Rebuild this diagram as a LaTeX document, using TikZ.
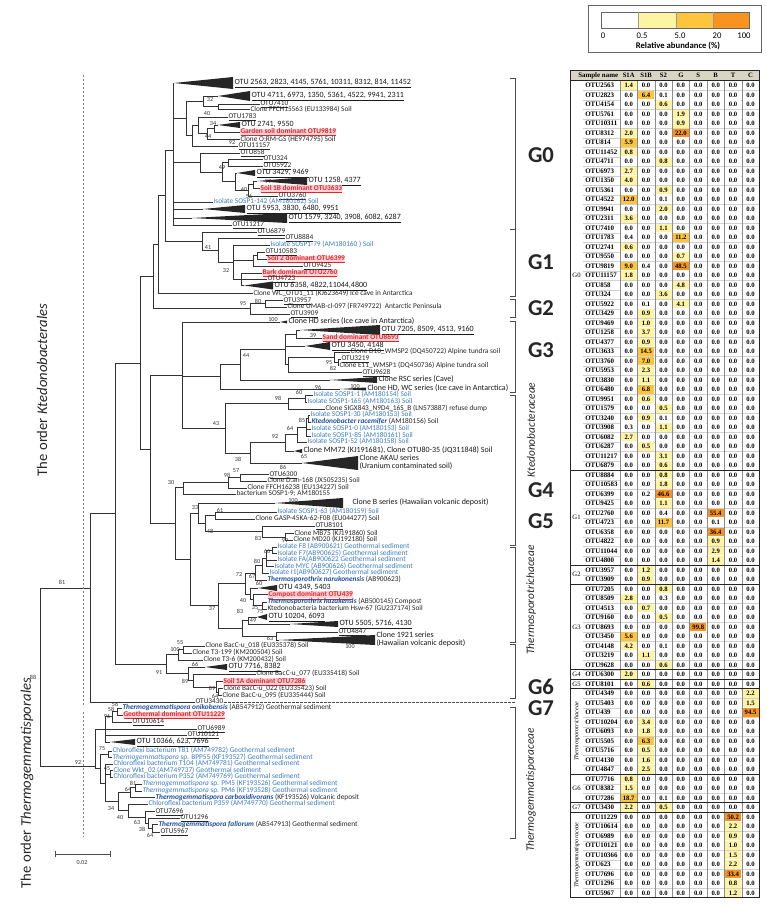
\documentclass[tikz,border=0pt]{standalone}
\usepackage{fontspec}
\setmainfont{Carlito}
\newfontfamily\tabfont{Liberation Serif}
\usetikzlibrary{calc}
\definecolor{cblue}{HTML}{3D7DC2}
\definecolor{cdblue}{HTML}{1F4E9C}
\definecolor{cred}{HTML}{E3262D}
\definecolor{cpink}{HTML}{FAD3D6}
\definecolor{lv0}{HTML}{FFFFFF}
\definecolor{lv1}{HTML}{FFF4A3}
\definecolor{lv2}{HTML}{FDC43E}
\definecolor{lv3}{HTML}{F7931E}
\definecolor{hdr}{HTML}{D9D4C3}
\newcommand\spn[1]{{\color{cdblue}\bfseries\itshape #1}}
\newcommand\tipn[4]{\node[#3] (#1) at (#2) {#4};}
\newcommand\tri[6]{\coordinate (#1) at (#2,#3);\fill[black!85] (#2,#3) -- (#4,#3-#5) -- (#4,#3+#5) -- cycle;\node[tl] (#1l) at (#4+1,#3) {#6};}
\newcommand\inn[3]{\coordinate (#1) at (#2);\foreach \c in {#3}{\draw[br] (#1) |- (\c);}}
\newcommand\brk[3]{\draw[brk] (#1-5,#2) -- (#1,#2) -- (#1,#3) -- (#1-5,#3);}
\newcommand\trow[3]{%
 \pgfmathsetmacro\yy{85.5+9.5*#1}%
 \node[tname] at (585,\yy) {#2};%
 \foreach \v [count=\c] in {#3}{%
   \pgfmathsetmacro\xx{620+17.4*(\c-1)}%
   \pgfmathtruncatemacro\lev{\v>=20?3:(\v>=5?2:(\v>=0.5?1:0))}%
   \fill[fill=lv\lev] (\xx+0.6,\yy-4.3) rectangle (\xx+16.8,\yy+4.3);%
   \node[tval] at (\xx+8.7,\yy) {\v};}}
\begin{document}
\begin{tikzpicture}[x=0.75pt,y=-0.75pt,
 br/.style={draw=black!80,line width=0.5pt},
 lb/.style={anchor=west,inner sep=0.2pt,text height=3.7pt,text depth=1.1pt,font=\fontsize{5.5}{6}\selectfont,text=black!85},
 lbb/.style={lb,text=cblue},
 lbr/.style={lb,text=cred,fill=cpink,font=\fontsize{5.5}{6}\selectfont\bfseries},
 tl/.style={anchor=west,inner sep=0.2pt,text height=4pt,text depth=1.2pt,font=\fontsize{6}{7}\selectfont,text=black!90},
 bs/.style={inner sep=0pt,text height=3.2pt,text depth=0pt,font=\fontsize{4.6}{5}\selectfont,text=black!80},
 brk/.style={draw=black!70,line width=0.5pt},
 glab/.style={inner sep=0.5pt,text height=11pt,text depth=0pt,font=\fontsize{17}{18}\selectfont\bfseries,text=black!85},
 fam/.style={rotate=90,font=\fontsize{8.5}{9}\selectfont\itshape,text=black!85},
 tname/.style={anchor=west,inner sep=0pt,font=\tabfont\bfseries\fontsize{5.2}{6}\selectfont},
 tval/.style={inner sep=0pt,font=\tabfont\bfseries\fontsize{5}{6}\selectfont},
 tgrp/.style={inner sep=0pt,font=\tabfont\fontsize{5}{6}\selectfont}]
\useasboundingbox (0,0) rectangle (766,912);
\fill[white] (0,0) rectangle (766,912);
% ================= tips: G0
\tri{T1}{174}{83}{233}{6}{\underline{OTU 2563, 2823, 4145, 5761, 10311, 8312, 814, 11452}}
\tri{T2}{218}{96}{250}{5}{\underline{OTU 4711, 6973, 1350, 5361, 4522, 9941, 2311}}
\tipn{t7410}{260,104}{lb}{\underline{OTU7410}}
\tipn{tFFCH}{250,109.5}{lb}{Clone FFCH15563 (EU133984) Soil}
\tipn{t1783}{228,117}{lb}{\underline{OTU1783}}
\tri{T3}{218}{125}{240}{3}{\underline{OTU 2741, 9550}}
\tipn{t9819}{240,132}{lbr}{\underline{Garden soil dominant OTU9819}}
\tipn{tORM}{240,139.5}{lb}{Clone O:RM-GS (HE974795) Soil}
\tipn{t11157}{238,146}{lb}{\underline{OTU11157}}
\tipn{t858}{240,153}{lb}{\underline{OTU858}}
\tipn{t324}{263,159}{lb}{\underline{OTU324}}
\tipn{t5922}{263,166}{lb}{\underline{OTU5922}}
\tri{T4}{237}{173}{255}{3}{\underline{OTU 3429, 9469}}
\tri{T5}{257}{181}{307}{4}{\underline{OTU 1258, 4377}}
\tipn{t3633}{260,188.5}{lbr}{\underline{Soil 1B dominant OTU3633}}
\tipn{t3760}{278,196}{lb}{\underline{OTU3760}}
\tipn{tS142}{213,202}{lbb}{Isolate SOSP1-142 (AM180162) Soil}
\tri{T6}{203}{209}{245}{4}{\underline{OTU 5953, 3830, 6480, 9951}}
\tri{T7}{192}{218}{287}{5}{\underline{OTU 1579, 3240, 3908, 6082, 6287}}
\tipn{t11217}{232,225}{lb}{\underline{OTU11217}}
% G1
\tipn{t6879}{257,232}{lb}{\underline{OTU6879}}
\tipn{t8884}{285,238}{lb}{\underline{OTU8884}}
\tipn{tS79}{270,245}{lbb}{Isolate SOSP1-79 (AM180160 ) Soil}
\tipn{t10583}{265,252}{lb}{\underline{OTU10583}}
\tipn{t6399}{267,259}{lbr}{\underline{Soil 2 dominant OTU6399}}
\tipn{t9425}{303,266}{lb}{\underline{OTU9425}}
\tipn{t2760}{262,273}{lbr}{\underline{Bark dominant OTU2760}}
\tipn{t4723}{267,279}{lb}{\underline{OTU4723}}
\tri{T8}{244}{285.5}{273}{4}{\underline{OTU 6358, 4822,11044,4800}}
\tipn{tWC}{253,293.5}{lb}{Clone WC\_OTU1\_11 (KJ623649) Ice cave in Antarctica}
% G2
\tipn{t3957}{283,300.5}{lb}{\underline{OTU3957}}
\tipn{tUMAB}{287,307}{lb}{Clone UMAB-cl-097 (FR749722)\ \ Antarctic Peninsula}
\tipn{t3909}{290,314}{lb}{\underline{OTU3909}}
\tri{THD}{280}{322}{287}{1.5}{Clone HD series (Ice cave in Antarctica)}
% G3
\tri{T9}{300}{330}{380}{5}{\underline{OTU 7205, 8509, 4513, 9160}}
\tipn{t8693}{322,338}{lbr}{\underline{Sand dominant OTU8693}}
\tri{T10}{305}{346}{330}{4}{\underline{OTU 3450, 4148}}
\tipn{tD10}{350,352}{lb}{Clone D10\_WMSP2 (DQ450722) Alpine tundra soil}
\tipn{t3219}{341,359}{lb}{\underline{OTU3219}}
\tipn{tE11}{339,365.5}{lb}{Clone E11\_WMSP1 (DQ450736) Alpine tundra soil}
\tipn{t9628}{362,372.5}{lb}{\underline{OTU9628}}
\tri{TRSC}{330}{380}{377}{3}{Clone RSC series (Cave)}
\tri{THDWC}{340}{389}{366}{1.5}{Clone HD, WC series (Ice cave in Antarctica)}
% Ktedonobacteraceae
\tipn{tS1}{313,395}{lbb}{Isolate SOSP1-1 (AM180154) Soil}
\tipn{tS165}{307,402}{lbb}{Isolate SOSP1-165 (AM180163) Soil}
\tipn{tSIGX}{325,409}{lb}{Clone SIGX843\_N9D4\_16S\_B (LN573887) refuse dump}
\tipn{tS30}{310,415}{lbb}{Isolate SOSP1-30 (AM180153) Soil}
\tipn{tKrac}{311,422}{lb}{\spn{Ktedonobacter racemifer} (AM180156) Soil}
\tipn{tS0}{311,429}{lbb}{Isolate SOSP1-0 (AM180153) Soil}
\tipn{tS85}{311,436}{lbb}{Isolate SOSP1-85 (AM180161) Soil}
\tipn{tS52}{307,442}{lbb}{Isolate SOSP1-52 (AM180158) Soil}
\tri{TMM}{294}{451}{302}{2}{Clone MM72 (KJ191681), Clone OTU80-35 (JQ311848) Soil}
\tri{TAK}{302}{463}{358}{7}{}
\node[tl] (akau1) at (359,459) {Clone AKAU series};
\node[tl] (akau2) at (359,467) {(Uranium contaminated soil)};
% G4
\tipn{t6300}{269,474.5}{lb}{\underline{OTU6300}}
\tipn{tDan}{267,481}{lb}{Clone D.an-168 (JX505235) Soil}
\tipn{tFF2}{247,488}{lb}{Clone FFCH16238 (EU134227) Soil}
\tipn{tS9}{236,494}{lb}{bacterium SOSP1-9; AM180155}
\tri{TB}{275}{503}{343}{5}{}
\node[tl] (bser) at (352,503) {Clone B series (Hawaiian volcanic deposit)};
% G5
\tipn{tS63}{277,512}{lbb}{Isolate SOSP1-63 (AM180159) Soil}
\tipn{tGASP}{255,519}{lb}{Clone GASP-45KA-62-F08 (EU044277) Soil}
\tipn{t8101}{315,526}{lb}{\underline{OTU8101}}
\tipn{tMB75}{294,533.5}{lb}{Clone MB75 (KJ191860) Soil}
\tipn{tMD20}{293,540}{lb}{Clone MD20 (KJ192180) Soil}
% Thermosporotrichaceae
\tipn{tF8}{277,547}{lbb}{Isolate F8 (AB900621) Geothermal sediment}
\tipn{tF7}{277,553.5}{lbb}{Isolate F7(AB900625) Geothermal sediment}
\tipn{tFA}{277,560}{lbb}{Isolate FA(AB900622 Geothermal sediment}
\tipn{tMYC}{274,566.5}{lbb}{Isolate MYC (AB900626) Geothermal sediment}
\tipn{tI1}{269,573}{lbb}{Isolate I1(AB900627) Geothermal sediment}
\tipn{tTn}{267,580}{lb}{\spn{Thermosporothrix narukonensis} (AB900623)}
\tri{T11}{258}{588}{277}{3}{\underline{OTU 4349, 5403}}
\tipn{t439}{268,594.5}{lbr}{\underline{Compost dominant OTU439}}
\tipn{tTh}{267,602}{lb}{\spn{Thermosporothrix hazakensis} (AB500145) Compost}
\tipn{tHsw}{267,609}{lb}{Ktedonobacteria bacterium Hsw-67 (GU237174) Soil}
\tri{T12}{257}{617}{267}{3}{\underline{OTU 10204, 6093}}
\tri{T13}{290}{624}{338}{3}{\underline{OTU 5505, 5716, 4130}}
\tipn{t4847}{338,632}{lb}{\underline{OTU4847}}
\tri{T1921}{279}{640}{375}{5}{}
\node[tl] (c1921a) at (376,636) {Clone 1921 series};
\node[tl] (c1921b) at (376,644) {(Hawaiian volcanic deposit)};
% G6, G7
\tipn{tB018}{205,646}{lb}{Clone BacC-u\_018 (EU335378) Soil}
\tipn{tT199}{192,653}{lb}{Clone T3-199 (KM200504) Soil}
\tipn{tT36}{203,660}{lb}{Clone T3-6 (KM200432) Soil}
\tri{T14}{205}{667}{227}{3}{\underline{OTU 7716, 8382}}
\tipn{tB077}{256,674}{lb}{Clone BacC-u\_077 (EU335418) Soil}
\tipn{t7286}{223,681.5}{lbr}{\underline{Soil 1A dominant OTU7286}}
\tipn{tB022}{223,688.5}{lb}{Clone BacC-u\_022 (EU335423) Soil}
\tipn{tB095}{222,695.5}{lb}{Clone BacC-u\_095 (EU335444) Soil}
\tipn{t3430}{195,702}{lb}{OTU3430}
% Thermogemmatisporaceae
\tipn{tOnik}{122,708}{lb}{\spn{Thermogemmatispora onikobensis} (AB547912) Geothermal sediment}
\tipn{t11229}{123,715}{lbr}{\underline{Geothermal dominant OTU11229}}
\tipn{t10614}{132,722}{lb}{\underline{OTU10614}}
\tipn{t6989}{197,729}{lb}{\underline{OTU6989}}
\tipn{t10121}{187,735}{lb}{\underline{OTU10121}}
\tri{T15}{110}{742}{135}{3}{\underline{OTU 10366, 623, 7696}}
\tipn{tT81}{112,751}{lbb}{Chloroflexi bacterium T81 (AM749782) Geothermal sediment}
\tipn{tBPP}{112,757.5}{lbb}{\textit{Thermogemmatispora} sp. BPP55 (KF193527) Geothermal sediment}
\tipn{tT104}{113,764}{lbb}{Chloroflexi bacterium T104 (AM749781) Geothermal sediment}
\tipn{tWkt}{113,770.5}{lbb}{Clone Wkt\_02 (AM749737) Geothermal sediment}
\tipn{tP352}{113,777}{lbb}{Chloroflexi bacterium P352 (AM749769) Geothermal sediment}
\tipn{tPM5}{142,784}{lbb}{\textit{Thermogemmatispora} sp. PM5 (KF193526) Geothermal sediment}
\tipn{tPM6}{142,791}{lbb}{\textit{Thermogemmatispora} sp. PM6 (KF193528) Geothermal sediment}
\tipn{tCarb}{155,797.5}{lb}{\spn{Thermogemmatispora carboxidivorans} (KF193526) Volcanic deposit}
\tipn{tP359}{148,804}{lbb}{Chloroflexi bacterium P359 (AM749770) Geothermal sediment}
\tipn{t7696}{155,811.5}{lb}{\underline{OTU7696}}
\tipn{t1296}{180,818}{lb}{\underline{OTU1296}}
\tipn{tFall}{158,824.5}{lb}{\spn{Thermogemmatispora fallorum} (AB547913) Geothermal sediment}
\tipn{t5967}{160,832}{lb}{\underline{OTU5967}}
% ================= internal nodes
\inn{a1}{218,106.5}{t7410,tFFCH}
\inn{a2}{203,101.25}{T2,a1}
\inn{a3}{214,128.5}{T3,t9819}
\inn{a4}{207,133.75}{a3,tORM}
\inn{a5}{198,125}{t1783,a4}
\inn{a6}{192,135.5}{a5,t11157}
\inn{a7}{186,118.4}{a2,a6}
\inn{b1}{228,162.5}{t324,t5922}
\inn{b2}{253,184.5}{T5,t3633}
\inn{b3}{248,190.25}{b2,t3760}
\inn{b4}{235,181.6}{T4,b3}
\inn{b5}{222,172}{b1,b4}
\inn{b6}{200,162.5}{t858,b5}
\inn{c1}{173,150}{T1,a7,b6,tS142,T6,T7,t11217}
\inn{g1a}{257,255.5}{t10583,t6399}
\inn{g1b}{253,260.75}{g1a,t9425}
\inn{g1c}{241,279}{t2760,t4723,T8}
\inn{g1d}{233,262}{tS79,g1b,g1c}
\inn{g1e}{218,250}{t8884,g1d}
\inn{g1f}{202,241}{t6879,g1e}
\inn{c3}{165,195}{c1,g1f}
\inn{c4}{158,244}{c3,tWC}
\inn{g2a}{265,303.5}{t3957,tUMAB}
\inn{g2}{250,308.75}{g2a,t3909}
\inn{c5}{153,276}{c4,g2}
\inn{g3a}{296,334}{T9,t8693}
\inn{g3d}{338,362.5}{t3219,tE11}
\inn{g3c}{334,357.25}{tD10,g3d}
\inn{g3e}{288,364.6}{g3c,t9628}
\inn{g3f}{285,349.3}{g3a,T10,g3e}
\inn{g3g}{240,364.6}{g3f,TRSC}
\inn{g3h}{220,376.8}{g3g,THDWC}
\inn{ka1}{305,398.5}{tS1,tS165}
\inn{ka2}{288,403.75}{ka1,tSIGX}
\inn{kb1}{308,418.5}{tS30,tKrac}
\inn{kb2}{306,427.25}{kb1,tS0,tS85}
\inn{kb3}{297,434.6}{kb2,tS52}
\inn{kb4}{285,442.8}{kb3,TMM}
\inn{kb5}{250,452.9}{kb4,TAK}
\inn{kc}{225,428.3}{ka2,kb5}
\inn{k182}{182,375}{THD,g3h,kc}
\inn{g4a}{240,477.5}{t6300,tDan}
\inn{g4core}{228,482.5}{g4a,tFF2}
\inn{g4x}{183,487.75}{g4core,tS9}
\inn{g5a}{215,515.5}{tS63,tGASP}
\inn{g5c}{285,537}{tMB75,tMD20}
\inn{g5b}{262,531.5}{t8101,g5c}
\inn{g5}{205,523.5}{g5a,g5b}
\inn{k33}{198,513}{TB,g5}
\inn{f1}{272,550}{tF8,tF7}
\inn{f2}{266,558.5}{f1,tFA,tMYC}
\inn{f3}{262,565.75}{f2,tI1}
\inn{f4}{255,572.9}{f3,tTn}
\inn{f6}{262,605.5}{tTh,tHsw}
\inn{f7}{253,599.75}{t439,f6}
\inn{f8}{250,593.9}{T11,f7}
\inn{f9}{245,583.4}{f4,f8}
\inn{f11}{248,620.5}{T12,T13}
\inn{f13}{276,636}{t4847,T1921}
\inn{f12}{242,628}{f11,f13}
\inn{f10}{218,605.7}{f9,f12}
\inn{kM}{190,559}{k33,f10}
\inn{k30}{175,523.7}{g4x,kM}
\inn{kU}{150,449}{k182,k30}
\inn{kT}{140,363}{c5,kU}
\inn{g6a}{183,649.5}{tB018,tT199}
\inn{g6b}{178,654.75}{g6a,tT36}
\inn{g6d}{218,692}{tB022,tB095}
\inn{g6e}{216,687}{t7286,g6d}
\inn{g6f}{193,680.5}{tB077,g6e}
\inn{g6h}{188,673.75}{T14,g6f}
\inn{G6r}{166,664.25}{g6b,g6h}
\inn{kB}{115,513}{kT,G6r}
\inn{kA}{90,588}{kB,t3430}
\inn{tga}{117,711.5}{tOnik,t11229}
\inn{tgb}{112,716.75}{tga,t10614}
\inn{tgc}{105,729.4}{tgb,t6989,t10121,T15}
\inn{tge}{108,754}{tT81,tBPP}
\inn{tgf}{110,774}{tWkt,tP352}
\inn{tgg}{135,787.5}{tPM5,tPM6}
\inn{tgh}{130,792.75}{tgg,tCarb}
\inn{tgj}{152,828}{tFall,t5967}
\inn{tgk}{148,823}{t1296,tgj}
\inn{tgl}{145,817.5}{t7696,tgk}
\inn{tgm}{128,810.75}{tP359,tgl}
\inn{tgn}{118,801.75}{tgh,tgm}
\inn{tgo}{105,782.9}{tT104,tgf,tgn}
\inn{tgp}{100,768.5}{tge,tgo}
\inn{TG0}{95,766}{tgc,tgp}
\inn{R}{40,683}{kA,TG0}
% dashed link of OTU3430
\coordinate (g7end) at (515,702);
\draw[black!70,dash pattern=on 2pt off 1pt,line width=0.4pt] (t3430.east) -- (g7end);
% ================= bootstrap values
\foreach \p/\t in {{210,99}/32,{207,113}/40,{213,123}/34,{208,136}/44,{232,142}/92,{222,167}/49,{268,181.5}/97,{244,189}/40,{249,196}/56,
 {208,247}/41,{226,270}/32,{243,303}/95,{258,301}/80,{273,319}/100,
 {313,335}/39,{246,355}/44,{329,362.5}/95,{333,368.5}/82,{318,387}/96,{355,386}/100,
 {299,392}/60,{278,398}/98,{216,423}/43,{302,420}/85,{290,428}/64,{275,436}/92,{238,459}/38,{304,456}/65,
 {283,467.5}/86,{236,470.5}/57,{227,475.5}/98,{171,482}/30,{293,500}/100,
 {195,507}/33,{220,510}/61,{210,531}/48,{258,538}/83,{285,540}/99,
 {267,551}/66,{257,561}/80,{239,574}/72,{252,576}/67,{259,583}/60,{243,600}/40,{255,607}/35,{212,608}/37,{240,611}/83,{260,611}/75,{253,620}/49,{270,638}/63,{350,646}/100,
 {180,642.5}/55,{175,649.5}/100,{195,664}/66,{159,672}/91,{185,681}/89,{212,688}/89,{215,696}/64,
 {115,704.5}/56,{111,709.5}/58,{107,716}/96,{102,748}/75,{78,762}/92,{107,768}/45,{133,783}/81,{128,789}/64,{111,808}/34,{120,817}/40,{137,822.5}/63,{142,829}/38,{150,835}/64,
 {62,582}/81,{33,677}/88}
 {\node[bs] at (\p) {\t};}
% ================= order labels, dashed lines, scale
\draw[black!50,dash pattern=on 1.5pt off 1.5pt,line width=0.5pt] (83,75) -- (83,705);
\draw[black!50,dash pattern=on 1.5pt off 1.5pt,line width=0.5pt] (83,712) -- (83,837);
\node[rotate=90,font=\fontsize{11}{12}\selectfont,text=black!85] (ordK) at (42,390) {The order \textit{Ktedonobacterales}};
\node[rotate=90,font=\fontsize{11}{12}\selectfont,text=black!85] (ordT) at (27,783) {The order \textit{Thermogemmatisporales}};
\coordinate (sbL) at (55,854); \coordinate (sbR) at (110,854);
\draw[black!70,line width=0.5pt] (sbL) -- (sbR);
\draw[black!70,line width=0.5pt] ($(sbL)+(0,-3)$) -- ($(sbL)+(0,3)$);
\draw[black!70,line width=0.5pt] ($(sbR)+(0,-3)$) -- ($(sbR)+(0,3)$);
\node[bs] at (82,862) {0.02};
% ================= brackets and group labels
\brk{515}{78}{229}
\brk{515}{229}{296}
\brk{515}{299}{317}
\brk{515}{321}{392}
\brk{515}{395}{545}
\brk{515}{547}{642}
\brk{515}{644}{698}
\brk{515}{707}{838}
\node[glab] at (541,155) {G0};
\node[glab] at (541,262) {G1};
\node[glab] at (541,308) {G2};
\node[glab] at (541,350) {G3};
\node[fam] at (531,430) {Ktedonobacteraceae};
\node[glab] at (541,490) {G4};
\node[glab] at (541,521) {G5};
\node[fam] at (531,600) {Thermosporotrichaceae};
\node[glab] at (541,687) {G6};
\node[glab] at (541,708) {G7};
\node[fam] at (531,790) {Thermogemmatisporaceae};
% ================= legend
\draw[black!60,line width=0.5pt] (588,5) rectangle (761,52);
\fill[lv0] (601,12) rectangle (638,28);
\fill[lv1] (638,12) rectangle (676,28);
\fill[lv2] (676,12) rectangle (713,28);
\fill[lv3] (713,12) rectangle (749,28);
\draw[black!60,line width=0.4pt] (601,12) rectangle (749,28);
\foreach \x in {638,676,713} \draw[black!40,line width=0.3pt] (\x,12) -- (\x,28);
\foreach \x/\t in {603/0,642/0.5,680/5.0,717/20,744/100}
  \node[font=\fontsize{6.5}{7}\selectfont] at (\x,36) {\t};
\node[font=\fontsize{6.5}{7}\selectfont\bfseries] at (678,45.5) {Relative abundance (\%)};
% ================= table
\fill[hdr] (570,70) rectangle (759.2,80.75);
\node[tname] at (578,75.4) {Sample name};
\foreach \t [count=\k] in {S1A,S1B,S2,G,S,B,T,C}
  \node[tval] at ({620+17.4*(\k-1)+8.7},75.4) {\t};
\foreach \i in {1,...,85} \draw[black!18,line width=0.3pt] (583,{80.75+9.5*\i}) -- (759.2,{80.75+9.5*\i});
\trow{0}{OTU2563}{1.4,0.0,0.0,0.0,0.0,0.0,0.0,0.0}
\trow{1}{OTU2823}{0.0,6.4,0.1,0.0,0.0,0.0,0.0,0.0}
\trow{2}{OTU4154}{0.0,0.0,0.6,0.0,0.0,0.0,0.0,0.0}
\trow{3}{OTU5761}{0.0,0.0,0.0,1.9,0.0,0.0,0.0,0.0}
\trow{4}{OTU10311}{0.0,0.0,0.0,0.9,0.0,0.0,0.0,0.0}
\trow{5}{OTU8312}{2.0,0.0,0.0,22.0,0.0,0.0,0.0,0.0}
\trow{6}{OTU814}{5.9,0.0,0.0,0.0,0.0,0.0,0.0,0.0}
\trow{7}{OTU11452}{0.8,0.0,0.0,0.0,0.0,0.0,0.0,0.0}
\trow{8}{OTU4711}{0.0,0.0,0.8,0.0,0.0,0.0,0.0,0.0}
\trow{9}{OTU6973}{2.7,0.0,0.0,0.0,0.0,0.0,0.0,0.0}
\trow{10}{OTU1350}{4.0,0.0,0.0,0.0,0.0,0.0,0.0,0.0}
\trow{11}{OTU5361}{0.0,0.0,0.9,0.0,0.0,0.0,0.0,0.0}
\trow{12}{OTU4522}{12.0,0.0,0.1,0.0,0.0,0.0,0.0,0.0}
\trow{13}{OTU9941}{0.0,0.0,2.0,0.0,0.0,0.0,0.0,0.0}
\trow{14}{OTU2311}{3.6,0.0,0.0,0.0,0.0,0.0,0.0,0.0}
\trow{15}{OTU7410}{0.0,0.0,1.1,0.0,0.0,0.0,0.0,0.0}
\trow{16}{OTU1783}{0.4,0.0,0.0,11.2,0.0,0.0,0.0,0.0}
\trow{17}{OTU2741}{0.6,0.0,0.0,0.0,0.0,0.0,0.0,0.0}
\trow{18}{OTU9550}{0.0,0.0,0.0,0.7,0.0,0.0,0.0,0.0}
\trow{19}{OTU9819}{9.0,0.4,0.0,48.5,0.0,0.0,0.0,0.0}
\trow{20}{OTU11157}{1.8,0.0,0.0,0.0,0.0,0.0,0.0,0.0}
\trow{21}{OTU858}{0.0,0.0,0.0,4.8,0.0,0.0,0.0,0.0}
\trow{22}{OTU324}{0.0,0.0,3.6,0.0,0.0,0.0,0.0,0.0}
\trow{23}{OTU5922}{0.0,0.1,0.0,4.1,0.0,0.0,0.0,0.0}
\trow{24}{OTU3429}{0.0,0.9,0.0,0.0,0.0,0.0,0.0,0.0}
\trow{25}{OTU9469}{0.0,1.0,0.0,0.0,0.0,0.0,0.0,0.0}
\trow{26}{OTU1258}{0.0,3.7,0.0,0.0,0.0,0.0,0.0,0.0}
\trow{27}{OTU4377}{0.0,0.9,0.0,0.0,0.0,0.0,0.0,0.0}
\trow{28}{OTU3633}{0.0,14.5,0.0,0.0,0.0,0.0,0.0,0.0}
\trow{29}{OTU3760}{0.0,7.0,0.0,0.0,0.0,0.0,0.0,0.0}
\trow{30}{OTU5953}{0.0,2.3,0.0,0.0,0.0,0.0,0.0,0.0}
\trow{31}{OTU3830}{0.0,1.1,0.0,0.0,0.0,0.0,0.0,0.0}
\trow{32}{OTU6480}{0.0,6.8,0.0,0.0,0.0,0.0,0.0,0.0}
\trow{33}{OTU9951}{0.0,0.6,0.0,0.0,0.0,0.0,0.0,0.0}
\trow{34}{OTU1579}{0.0,0.0,0.5,0.0,0.0,0.0,0.0,0.0}
\trow{35}{OTU3240}{0.0,0.9,0.1,0.0,0.0,0.0,0.0,0.0}
\trow{36}{OTU3908}{0.3,0.0,1.1,0.0,0.0,0.0,0.0,0.0}
\trow{37}{OTU6082}{2.7,0.0,0.0,0.0,0.0,0.0,0.0,0.0}
\trow{38}{OTU6287}{0.0,0.5,0.0,0.0,0.0,0.0,0.0,0.0}
\trow{39}{OTU11217}{0.0,0.0,3.1,0.0,0.0,0.0,0.0,0.0}
\trow{40}{OTU6879}{0.0,0.0,0.6,0.0,0.0,0.0,0.0,0.0}
\trow{41}{OTU8884}{0.0,0.0,0.8,0.0,0.0,0.0,0.0,0.0}
\trow{42}{OTU10583}{0.0,0.0,1.8,0.0,0.0,0.0,0.0,0.0}
\trow{43}{OTU6399}{0.0,0.2,46.6,0.0,0.0,0.0,0.0,0.0}
\trow{44}{OTU9425}{0.0,0.0,1.1,0.0,0.0,0.0,0.0,0.0}
\trow{45}{OTU2760}{0.0,0.0,0.4,0.0,0.0,55.4,0.0,0.0}
\trow{46}{OTU4723}{0.0,0.0,11.7,0.0,0.0,0.1,0.0,0.0}
\trow{47}{OTU6358}{0.0,0.0,0.0,0.0,0.0,36.4,0.0,0.0}
\trow{48}{OTU4822}{0.0,0.0,0.0,0.0,0.0,0.9,0.0,0.0}
\trow{49}{OTU11044}{0.0,0.0,0.0,0.0,0.0,2.9,0.0,0.0}
\trow{50}{OTU4800}{0.0,0.0,0.0,0.0,0.0,1.4,0.0,0.0}
\trow{51}{OTU3957}{0.0,1.2,0.0,0.0,0.0,0.0,0.0,0.0}
\trow{52}{OTU3909}{0.0,0.9,0.0,0.0,0.0,0.0,0.0,0.0}
\trow{53}{OTU7205}{0.0,0.0,0.8,0.0,0.0,0.0,0.0,0.0}
\trow{54}{OTU8509}{2.8,0.0,0.3,0.0,0.0,0.0,0.0,0.0}
\trow{55}{OTU4513}{0.0,0.7,0.0,0.0,0.0,0.0,0.0,0.0}
\trow{56}{OTU9160}{0.0,0.0,0.5,0.0,0.0,0.0,0.0,0.0}
\trow{57}{OTU8693}{0.0,0.0,0.0,0.0,99.8,0.0,0.0,0.0}
\trow{58}{OTU3450}{5.6,0.0,0.0,0.0,0.0,0.0,0.0,0.0}
\trow{59}{OTU4148}{4.2,0.0,0.1,0.0,0.0,0.0,0.0,0.0}
\trow{60}{OTU3219}{0.0,1.1,0.0,0.0,0.0,0.0,0.0,0.0}
\trow{61}{OTU9628}{0.0,0.0,0.6,0.0,0.0,0.0,0.0,0.0}
\trow{62}{OTU6300}{2.0,0.0,0.0,0.0,0.0,0.0,0.0,0.0}
\trow{63}{OTU8101}{0.0,0.6,0.0,0.0,0.0,0.0,0.0,0.0}
\trow{64}{OTU4349}{0.0,0.0,0.0,0.0,0.0,0.0,0.0,2.2}
\trow{65}{OTU5403}{0.0,0.0,0.0,0.0,0.0,0.0,0.0,1.5}
\trow{66}{OTU439}{0.0,0.0,0.0,0.0,0.0,0.0,0.0,94.5}
\trow{67}{OTU10204}{0.0,3.4,0.0,0.0,0.0,0.0,0.0,0.0}
\trow{68}{OTU6093}{0.0,1.8,0.0,0.0,0.0,0.0,0.0,0.0}
\trow{69}{OTU5505}{0.0,6.3,0.0,0.0,0.0,0.0,0.0,0.0}
\trow{70}{OTU5716}{0.0,0.5,0.0,0.0,0.0,0.0,0.0,0.0}
\trow{71}{OTU4130}{0.0,1.6,0.0,0.0,0.0,0.0,0.0,0.0}
\trow{72}{OTU4847}{0.0,2.5,0.0,0.0,0.0,0.0,0.0,0.0}
\trow{73}{OTU7716}{0.8,0.0,0.0,0.0,0.0,0.0,0.0,0.0}
\trow{74}{OTU8382}{1.5,0.0,0.0,0.0,0.0,0.0,0.0,0.0}
\trow{75}{OTU7286}{18.7,0.0,0.1,0.0,0.0,0.0,0.0,0.0}
\trow{76}{OTU3430}{2.2,0.0,0.5,0.0,0.0,0.0,0.0,0.0}
\trow{77}{OTU11229}{0.0,0.0,0.0,0.0,0.0,0.0,50.2,0.0}
\trow{78}{OTU10614}{0.0,0.0,0.0,0.0,0.0,0.0,2.2,0.0}
\trow{79}{OTU6989}{0.0,0.0,0.0,0.0,0.0,0.0,0.9,0.0}
\trow{80}{OTU10121}{0.0,0.0,0.0,0.0,0.0,0.0,1.0,0.0}
\trow{81}{OTU10366}{0.0,0.0,0.0,0.0,0.0,0.0,1.5,0.0}
\trow{82}{OTU623}{0.0,0.0,0.0,0.0,0.0,0.0,2.2,0.0}
\trow{83}{OTU7696}{0.0,0.0,0.0,0.0,0.0,0.0,33.4,0.0}
\trow{84}{OTU1296}{0.0,0.0,0.0,0.0,0.0,0.0,0.8,0.0}
\trow{85}{OTU5967}{0.0,0.0,0.0,0.0,0.0,0.0,1.2,0.0}
\foreach \k in {0,...,8} \draw[black!45,line width=0.35pt] ({620+17.4*\k},80.75) -- ({620+17.4*\k},897.75);
\foreach \i in {41,51,53,62,63,64,73,76,77}
  \draw[black!85,line width=0.6pt] (570,{80.75+9.5*\i}) -- (759.2,{80.75+9.5*\i});
\draw[black!85,line width=0.6pt] (570,80.75) -- (759.2,80.75);
\draw[black!85,line width=0.7pt] (570,70) rectangle (759.2,897.75);
\foreach \i/\t in {20/G0,45.5/G1,51.5/G2,57/G3,62/G4,63/G5,74/G6,76/G7}
  \node[tgrp] at (576.5,{85.5+9.5*\i}) {\t};
\node[tgrp,rotate=90,font=\tabfont\itshape\fontsize{4.6}{5}\selectfont] at (577,{85.5+9.5*68}) {Thermosporotrichaceae};
\node[tgrp,rotate=90,font=\tabfont\itshape\fontsize{4.6}{5}\selectfont] at (577,{85.5+9.5*81}) {Thermogemmatisporaceae};
\end{tikzpicture}
\end{document}
